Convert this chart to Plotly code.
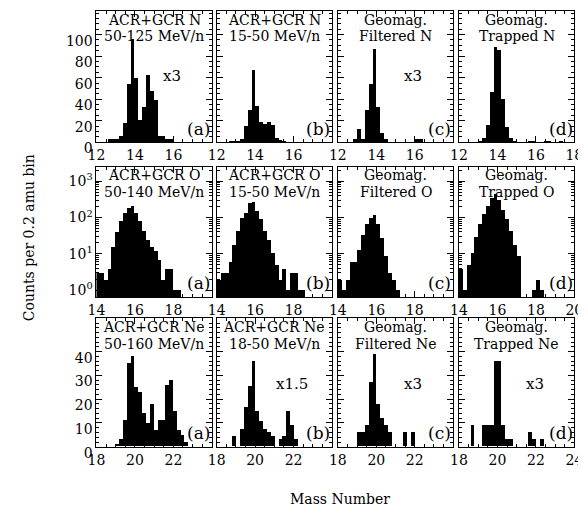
import plotly.graph_objects as go

W, H = 586, 516
FONT = "DejaVu Serif"

# ---------------- data (bin lower edge, counts per 0.2 amu bin) ----------------
# Nitrogen (mass 12-18)
n_a_edges = [12.6, 12.8, 13.0, 13.2, 13.4, 13.6, 13.8, 14.0, 14.2, 14.4, 14.6, 14.8, 15.0, 15.2, 15.4, 15.6, 15.8]
n_a_counts = [3, 3, 3, 6, 18, 54, 96, 60, 21, 33, 63, 48, 39, 6, 6, 3, 3]
n_b_edges = [12.6, 12.8, 13.0, 13.2, 13.4, 13.6, 13.8, 14.0, 14.2, 14.4, 14.6, 14.8, 15.0, 15.2, 15.4]
n_b_counts = [1, 1, 1, 3, 15, 30, 67, 34, 19, 17, 19, 16, 4, 2, 1]
n_c_edges = [12.8, 13.0, 13.2, 13.4, 13.6, 13.8, 14.0, 14.2, 14.4, 16.0, 16.2]
n_c_counts = [3, 12, 3, 30, 54, 87, 33, 9, 3, 3, 3]
n_d_edges = [13.0, 13.2, 13.4, 13.6, 13.8, 14.0, 14.2, 14.4, 14.6, 14.8, 15.6, 15.8, 16.4, 16.6, 17.2]
n_d_counts = [1, 4, 16, 47, 89, 86, 40, 14, 4, 1, 1, 1, 1, 1, 1]

# Oxygen (mass 14-20), log scale
o_a_edges = [14.0, 14.2, 14.4, 14.6, 14.8, 15.0, 15.2, 15.4, 15.6, 15.8, 16.0, 16.2, 16.4, 16.6, 16.8, 17.0, 17.2, 17.4, 17.6, 17.8, 18.0, 18.2]
o_a_counts = [3, 3, 2, 4, 16, 41, 84, 139, 190, 218, 140, 84, 45, 24, 16, 12, 7, 2, 4, 4, 1, 1]
o_b_edges = [14.0, 14.2, 14.4, 14.6, 14.8, 15.0, 15.2, 15.4, 15.6, 15.8, 16.0, 16.2, 16.4, 16.6, 16.8, 17.0, 17.2, 17.4, 17.6, 17.8, 18.0, 18.2, 18.4]
o_b_counts = [2, 3, 3, 6, 18, 45, 102, 139, 260, 270, 155, 92, 45, 24, 11, 5, 2, 4, 1, 3, 3, 1, 1]
o_c_edges = [14.0, 14.2, 14.4, 14.6, 14.8, 15.0, 15.2, 15.4, 15.6, 15.8, 16.0, 16.2, 16.4, 16.6, 16.8, 17.0]
o_c_counts = [2, 1, 2, 6, 6, 13, 33, 68, 100, 120, 70, 28, 9, 3, 2, 1]
o_d_edges = [14.0, 14.2, 14.4, 14.6, 14.8, 15.0, 15.2, 15.4, 15.6, 15.8, 16.0, 16.2, 16.4, 16.6, 16.8, 17.0, 17.8, 18.0, 18.2]
o_d_counts = [4, 1, 5, 11, 30, 68, 125, 210, 350, 450, 320, 170, 92, 45, 18, 9, 1, 2, 1]

# Neon (mass 18-24)
ne_a_edges = [19.0, 19.2, 19.4, 19.6, 19.8, 20.0, 20.2, 20.4, 20.6, 20.8, 21.0, 21.2, 21.4, 21.6, 21.8, 22.0, 22.2, 22.4, 22.6]
ne_a_counts = [1, 3, 11, 35, 38, 25, 23, 14, 10, 18, 7, 11, 11, 26, 28, 15, 7, 5, 2]
ne_b_edges = [18.8, 19.2, 19.4, 19.6, 19.8, 20.0, 20.2, 20.4, 20.6, 20.8, 21.2, 21.4, 21.6, 21.8, 22.0]
ne_b_counts = [4.5, 7.5, 16.5, 25.5, 36, 15, 10.5, 7.5, 6, 4.5, 3, 4.5, 15, 9, 3]
ne_c_edges = [19.0, 19.2, 19.4, 19.6, 19.8, 20.0, 20.2, 20.4, 20.6, 21.4, 21.8]
ne_c_counts = [6, 6, 9, 27, 39, 18, 12, 9, 6, 6, 6]
ne_d_edges = [18.6, 19.2, 19.4, 19.6, 19.8, 20.0, 20.2, 20.4, 20.6, 21.6, 21.8, 22.2]
ne_d_counts = [9, 9, 9, 9, 36, 36, 9, 3, 3, 6, 3, 3]

BIN = 0.2
x_lows = [12, 14, 18]
row_titles = [
    [("ACR+GCR N", "50-125 MeV/n"), ("ACR+GCR N", "15-50 MeV/n"), ("Geomag.", "Filtered N"), ("Geomag.", "Trapped N")],
    [("ACR+GCR O", "50-140 MeV/n"), ("ACR+GCR O", "15-50 MeV/n"), ("Geomag.", "Filtered O"), ("Geomag.", "Trapped O")],
    [("ACR+GCR Ne", "50-160 MeV/n"), ("ACR+GCR Ne", "18-50 MeV/n"), ("Geomag.", "Filtered Ne"), ("Geomag.", "Trapped Ne")],
]
panel_letters = ["(a)", "(b)", "(c)", "(d)"]
scale_notes = {(0, 0): "x3", (0, 2): "x3", (2, 1): "x1.5", (2, 2): "x3", (2, 3): "x3"}

data = [
    [(n_a_edges, n_a_counts), (n_b_edges, n_b_counts), (n_c_edges, n_c_counts), (n_d_edges, n_d_counts)],
    [(o_a_edges, o_a_counts), (o_b_edges, o_b_counts), (o_c_edges, o_c_counts), (o_d_edges, o_d_counts)],
    [(ne_a_edges, ne_a_counts), (ne_b_edges, ne_b_counts), (ne_c_edges, ne_c_counts), (ne_d_edges, ne_d_counts)],
]

# ---------------- layout geometry (pixels) ----------------
col_px = [(82, 201), (206, 325), (331, 450), (456, 575)]
row_px = [(3, 138), (163, 297), (319, 451)]


def px_x(X):
    return X / W


def px_y(Y):
    return 1 - Y / H


fig = go.Figure()
layout = {}
annotations = []
tickfont = dict(family=FONT, size=14, color="black")
TITLE_SIZE = 14

for r in range(3):
    for c in range(4):
        idx = r * 4 + c + 1
        xname = "x" if idx == 1 else f"x{idx}"
        yname = "y" if idx == 1 else f"y{idx}"
        edges, counts = data[r][c]
        xs = [e + BIN / 2 for e in edges]
        fig.add_trace(go.Bar(
            x=xs, y=counts, width=BIN,
            marker=dict(color="black", line=dict(width=0)),
            xaxis=xname, yaxis=yname, showlegend=False, hoverinfo="x+y",
        ))
        lo = x_lows[r]
        xt = [lo, lo + 2, lo + 4] + ([lo + 6] if c == 3 else [])
        x0, x1 = col_px[c]
        y0, y1 = row_px[r]
        common = dict(
            showline=True, linecolor="black", linewidth=1, mirror="allticks",
            ticks="inside", ticklen=6, tickwidth=1, tickcolor="black",
            showgrid=False, zeroline=False, tickfont=tickfont,
        )
        layout[f"xaxis{'' if idx == 1 else idx}"] = dict(
            domain=[px_x(x0), px_x(x1)], anchor=yname, range=[lo, lo + 6],
            tickmode="array", tickvals=xt, ticktext=[str(v) for v in xt],
            minor=dict(ticks="inside", ticklen=3, tickcolor="black", dtick=0.5, tick0=lo, showgrid=False),
            **common,
        )
        ycommon = dict(domain=[px_y(y1), px_y(y0)], anchor=xname, showticklabels=(c == 0), **common)
        if r == 0:
            ycommon.update(range=[0, 122], tickmode="array", tickvals=[0, 20, 40, 60, 80, 100],
                           ticklabelshift=6,
                           minor=dict(ticks="inside", ticklen=3, tickcolor="black", dtick=5, showgrid=False))
        elif r == 1:
            mv = [m * 10 ** k for k in range(0, 4) for m in range(2, 10) if m * 10 ** k < 2600]
            ycommon.update(type="log", range=[-0.19, 3.405], tickmode="array",
                           tickvals=[1, 10, 100, 1000],
                           ticktext=["10<sup>0</sup>", "10<sup>1</sup>", "10<sup>2</sup>", "10<sup>3</sup>"],
                           minor=dict(ticks="inside", ticklen=3, tickcolor="black", tickmode="array",
                                      tickvals=mv, showgrid=False))
        else:
            ycommon.update(range=[0, 54], tickmode="array", tickvals=[0, 10, 20, 30, 40],
                           ticklabelshift=6,
                           minor=dict(ticks="inside", ticklen=3, tickcolor="black", dtick=2, showgrid=False))
        layout[f"yaxis{'' if idx == 1 else idx}"] = ycommon

        # panel titles (two lines)
        xc = (x0 + x1) / 2
        t1, t2 = row_titles[r][c]
        annotations.append(dict(text=t1, x=px_x(xc), y=px_y(y0 + 9), xref="paper", yref="paper",
                                showarrow=False, xanchor="center", yanchor="middle",
                                font=dict(family=FONT, size=TITLE_SIZE, color="black")))
        annotations.append(dict(text=t2, x=px_x(xc), y=px_y(y0 + 26), xref="paper", yref="paper",
                                showarrow=False, xanchor="center", yanchor="middle",
                                font=dict(family=FONT, size=TITLE_SIZE, color="black")))
        annotations.append(dict(text=panel_letters[c], x=px_x(x1 - 14), y=px_y(y1 - 14), xref="paper", yref="paper",
                                showarrow=False, xanchor="center", yanchor="middle",
                                font=dict(family=FONT, size=17, color="black")))
        if (r, c) in scale_notes:
            annotations.append(dict(text=scale_notes[(r, c)], x=px_x(x0 + 78), y=px_y(y0 + 67), xref="paper",
                                    yref="paper", showarrow=False, xanchor="center", yanchor="middle",
                                    font=dict(family=FONT, size=15, color="black")))

annotations.append(dict(text="Counts per 0.2 amu bin", x=px_x(12), y=px_y(236), xref="paper", yref="paper",
                        showarrow=False, textangle=-90, xanchor="center", yanchor="middle",
                        font=dict(family=FONT, size=14, color="black")))
annotations.append(dict(text="Mass Number", x=px_x(333), y=px_y(505), xref="paper", yref="paper",
                        showarrow=False, xanchor="center", yanchor="middle",
                        font=dict(family=FONT, size=14, color="black")))

fig.update_layout(
    width=W, height=H, margin=dict(l=0, r=0, t=0, b=0),
    paper_bgcolor="white", plot_bgcolor="white",
    bargap=0, barmode="overlay", annotations=annotations, **layout,
)

fig.write_html("out.html")
